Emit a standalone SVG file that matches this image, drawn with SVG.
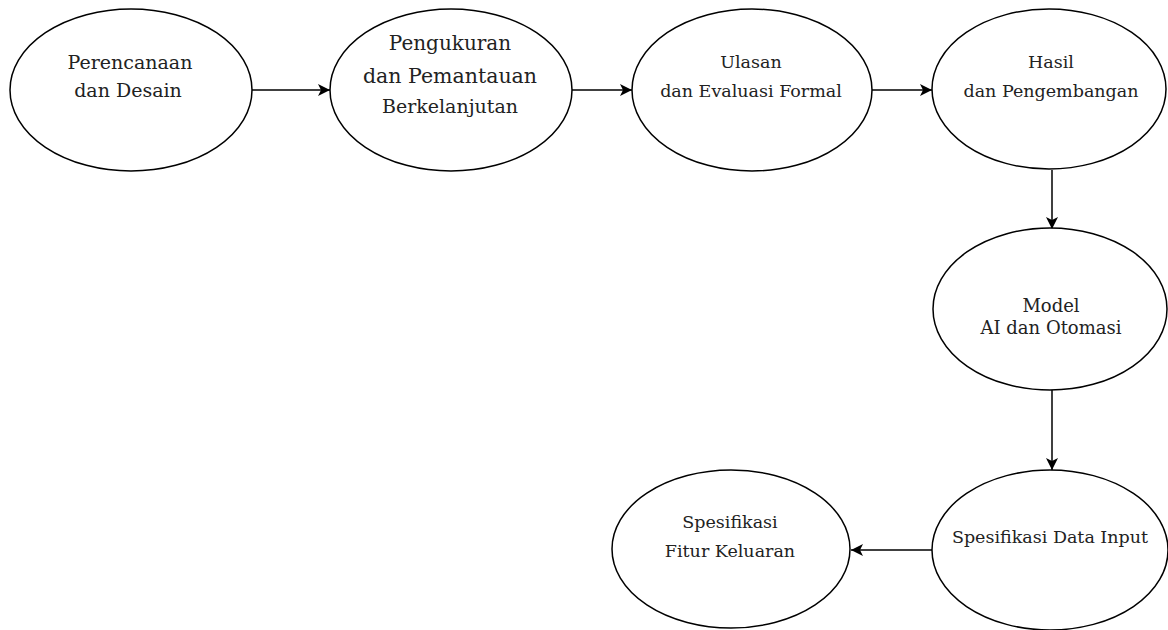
<svg xmlns="http://www.w3.org/2000/svg" width="1168" height="630" viewBox="0 0 1168 630">
<style>
.n{fill:#fff;stroke:#000;stroke-width:1.5}
.t{font-family:"DejaVu Serif","Liberation Serif",serif;font-size:17.5px;fill:#222;text-anchor:middle}
.c{stroke:#000;stroke-width:1.5;fill:none;marker-end:url(#ah)}
</style>
<defs>
<marker id="ah" viewBox="0 0 12 12" refX="12" refY="6" markerWidth="12" markerHeight="12" markerUnits="userSpaceOnUse" orient="auto">
<path d="M0,0 L12,6 L0,12 L3,6 z" fill="#000"/>
</marker>
</defs>
<rect width="1168" height="630" fill="#fff"/>
<g id="connectors">
<line class="c" x1="252" y1="90" x2="330" y2="90"/>
<line class="c" x1="572" y1="90" x2="632" y2="90"/>
<line class="c" x1="872" y1="90" x2="932" y2="90"/>
<line class="c" x1="1052" y1="170" x2="1052" y2="229"/>
<line class="c" x1="1052" y1="390" x2="1052" y2="470"/>
<line class="c" x1="932" y1="550" x2="851" y2="550"/>
</g>
<g id="n1"><ellipse class="n" cx="131" cy="90" rx="121" ry="81"/>
<text class="t" x="130" y="69" style="font-size:19px">Perencanaan</text><text class="t" x="128" y="97" style="font-size:19px">dan Desain</text></g>
<g id="n2"><ellipse class="n" cx="451" cy="90" rx="121" ry="81"/>
<text class="t" x="450" y="50" style="font-size:20px">Pengukuran</text><text class="t" x="450" y="83" style="font-size:20.5px">dan Pemantauan</text><text class="t" x="450" y="113" style="font-size:19px">Berkelanjutan</text></g>
<g id="n3"><ellipse class="n" cx="752" cy="90" rx="120" ry="81"/>
<text class="t" x="751" y="68">Ulasan</text><text class="t" x="751" y="97">dan Evaluasi Formal</text></g>
<g id="n4"><ellipse class="n" cx="1049" cy="89" rx="117" ry="80"/>
<text class="t" x="1051" y="68">Hasil</text><text class="t" x="1051" y="97">dan Pengembangan</text></g>
<g id="n5"><ellipse class="n" cx="1050" cy="309" rx="117" ry="81"/>
<text class="t" x="1051" y="312" style="font-size:18px">Model</text><text class="t" x="1051" y="334" style="font-size:18px">AI dan Otomasi</text></g>
<g id="n6"><ellipse class="n" cx="1050" cy="550" rx="118" ry="80"/>
<text class="t" x="1050" y="543">Spesifikasi Data Input</text></g>
<g id="n7"><ellipse class="n" cx="731" cy="549" rx="119" ry="79"/>
<text class="t" x="730" y="528">Spesifikasi</text><text class="t" x="730" y="557">Fitur Keluaran</text></g>
</svg>
